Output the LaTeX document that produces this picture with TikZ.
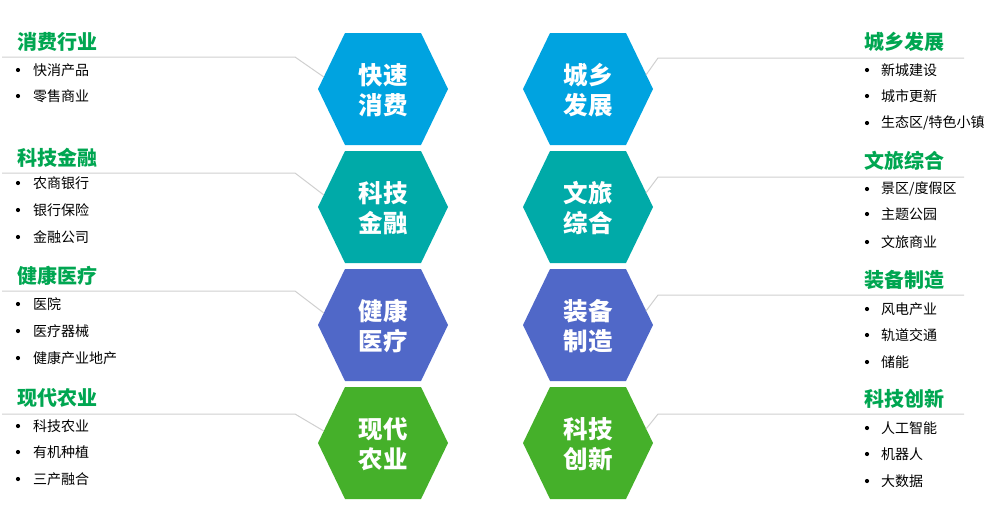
\documentclass[tikz,border=0pt]{standalone}
\usepackage{fontspec}
\newfontfamily\cjk{Noto Sans CJK SC}
\definecolor{hexblue}{HTML}{00A3E0}
\definecolor{hexteal}{HTML}{00AAA8}
\definecolor{hexindigo}{HTML}{5068C8}
\definecolor{hexgreen}{HTML}{45B02A}
\definecolor{titlegreen}{HTML}{00A651}
\definecolor{linegray}{HTML}{D0D0D0}
\tikzset{
  hextext/.style={text=white, align=center, inner sep=0pt, font=\cjk\bfseries\fontsize{24.5}{30}\selectfont},
  cattitle/.style={anchor=west, inner sep=0pt, text=titlegreen, font=\cjk\bfseries\fontsize{20}{24}\selectfont},
  item/.style={anchor=west, inner sep=0pt, text=black, font=\cjk\fontsize{14}{16}\selectfont},
  dot/.style={circle, fill=black, inner sep=0pt, minimum size=4.2pt},
  link/.style={draw=linegray, line width=1pt},
}
\newcommand{\hexagon}[4]{% name, cx, cy, colour
  \fill[#4] (#2-65,#3) -- (#2-38,#3-56) -- (#2+38,#3-56) -- (#2+65,#3) -- (#2+38,#3+56) -- (#2-38,#3+56) -- cycle;
  \coordinate (#1-ul) at ({#2-65+27*(12/56)},#3-12);
  \coordinate (#1-ur) at ({#2+65-28*(14/56)},#3-14);
}
\begin{document}
\begin{tikzpicture}[x=1pt,y=-1pt]
\useasboundingbox (0,0) rectangle (1003,517);
% hexagons
\hexagon{h1}{383}{89}{hexblue}
\hexagon{h2}{383}{207}{hexteal}
\hexagon{h3}{383}{325}{hexindigo}
\hexagon{h4}{383}{443}{hexgreen}
\hexagon{k1}{588}{89}{hexblue}
\hexagon{k2}{588}{207}{hexteal}
\hexagon{k3}{588}{325}{hexindigo}
\hexagon{k4}{588}{443}{hexgreen}
\node[hextext] (t1) at (383,90) {快速\\消费};
\node[hextext] (t2) at (383,208) {科技\\金融};
\node[hextext] (t3) at (383,326) {健康\\医疗};
\node[hextext] (t4) at (383,444) {现代\\农业};
\node[hextext] (u1) at (588,90) {城乡\\发展};
\node[hextext] (u2) at (588,208) {文旅\\综合};
\node[hextext] (u3) at (588,326) {装备\\制造};
\node[hextext] (u4) at (588,444) {科技\\创新};
% connectors left
\coordinate (la1) at (2,57);  \coordinate (lb1) at (295,57);
\coordinate (la2) at (2,173); \coordinate (lb2) at (295,173);
\coordinate (la3) at (2,291); \coordinate (lb3) at (295,291);
\coordinate (la4) at (2,414); \coordinate (lb4) at (295,414);
\draw[link] (la1) -- (lb1) -- (h1-ul);
\draw[link] (la2) -- (lb2) -- (h2-ul);
\draw[link] (la3) -- (lb3) -- (h3-ul);
\draw[link] (la4) -- (lb4) -- (h4-ul);
% connectors right
\coordinate (ra1) at (964,58);  \coordinate (rb1) at (658,58);
\coordinate (ra2) at (964,177); \coordinate (rb2) at (658,177);
\coordinate (ra3) at (964,295); \coordinate (rb3) at (658,295);
\coordinate (ra4) at (964,414); \coordinate (rb4) at (658,414);
\draw[link] (ra1) -- (rb1) -- (k1-ur);
\draw[link] (ra2) -- (rb2) -- (k2-ur);
\draw[link] (ra3) -- (rb3) -- (k3-ur);
\draw[link] (ra4) -- (rb4) -- (k4-ur);
% left titles
\node[cattitle] (c1) at (17,41.5) {消费行业};
\node[cattitle] (c2) at (17,158) {科技金融};
\node[cattitle] (c3) at (17,276) {健康医疗};
\node[cattitle] (c4) at (17,398) {现代农业};
% right titles
\node[cattitle] (d1) at (864,42) {城乡发展};
\node[cattitle] (d2) at (864,161) {文旅综合};
\node[cattitle] (d3) at (864,280) {装备制造};
\node[cattitle] (d4) at (864,399) {科技创新};
% left items
\foreach \y/\t [count=\i] in {70/{快消产品}, 96/{零售商业}, 183/{农商银行}, 210/{银行保险}, 237/{金融公司}, 304/{医院}, 331/{医疗器械}, 358/{健康产业地产}, 426/{科技农业}, 452/{有机种植}, 479/{三产融合}}{
  \node[dot] (lbul\i) at (18,\y) {};
  \node[item] (litem\i) at (33,\y) {\t};
}
% right items
\foreach \y/\t [count=\i] in {70/{新城建设}, 96/{城市更新}, 123/{生态区/特色小镇}, 189/{景区/度假区}, 214/{主题公园}, 242/{文旅商业}, 309/{风电产业}, 335/{轨道交通}, 362/{储能}, 428/{人工智能}, 454/{机器人}, 481/{大数据}}{
  \node[dot] (rbul\i) at (867,\y) {};
  \node[item] (ritem\i) at (881,\y) {\t};
}
\end{tikzpicture}
\end{document}
